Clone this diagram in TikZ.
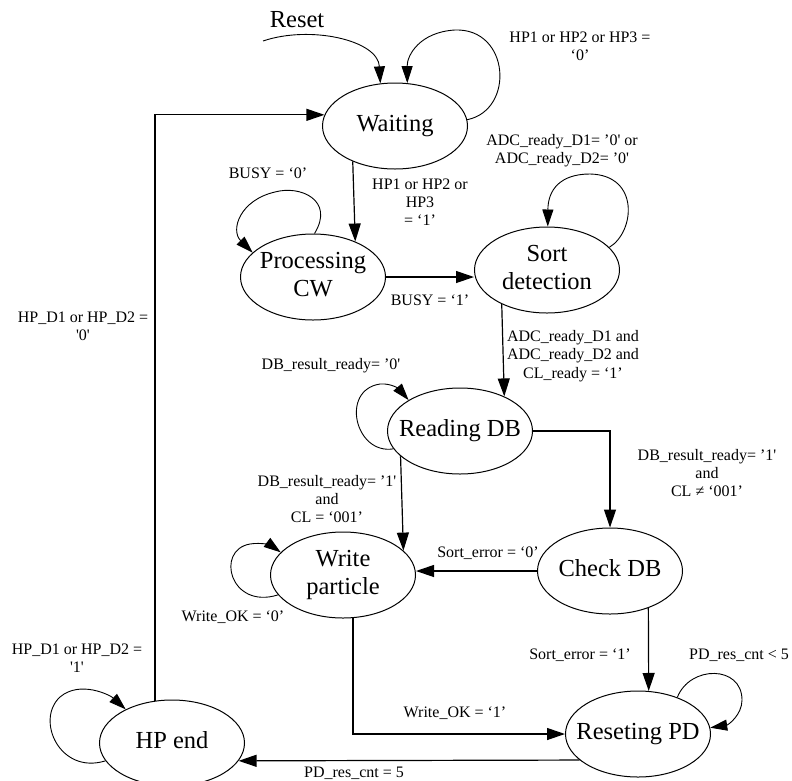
\documentclass[tikz,border=0pt]{standalone}
\usepackage{fontspec}
\setmainfont{Liberation Serif}[Ligatures=TeXOff]
\usetikzlibrary{arrows.meta,shapes.geometric}
\newcommand{\statetext}[1]{\makebox[0pt]{\begin{tabular}{@{}c@{}}#1\end{tabular}}}
\tikzset{
  stnode/.style={ellipse, draw, line width=1pt, minimum width=145pt, minimum height=86pt, inner sep=0pt, font=\fontsize{24.5}{28}\selectfont},
  lbl/.style={align=center, font=\fontsize{16}{18.3}\selectfont, inner sep=0pt},
  arr/.style={line width=1.2pt, -{Triangle[length=18pt,width=12pt]}},
  selfarr/.style={line width=0.9pt, -{Triangle[length=17pt,width=11pt]}},
}
\begin{document}
\begin{tikzpicture}[x=1pt,y=-1pt]
\useasboundingbox (0,0) rectangle (792,780);
% states
\node[stnode] (wait)  at (395,126) {\statetext{Waiting}};
\node[stnode] (proc)  at (313,277) {\statetext{Processing\\CW}};
\node[stnode] (sort)  at (547,270) {\statetext{Sort\\detection}};
\node[stnode] (read)  at (460,431) {\statetext{Reading DB}};
\node[stnode] (write) at (343,575) {\statetext{Write\\particle}};
\node[stnode] (check) at (610,571) {\statetext{Check DB}};
\node[stnode] (reset) at (638,734) {\statetext{Reseting PD}};
\node[stnode] (hpend) at (172,743) {\statetext{HP end}};
% reset entry
\coordinate (rs) at (263,41);
\node[font=\fontsize{24.5}{28}\selectfont, inner sep=0pt] (rslbl) at (297,20) {Reset};
\draw[selfarr] (rs) .. controls (310,25) and (378,40) .. (wait.109.6);
% Waiting self loop
\draw[selfarr] (wait.5) .. controls (515,110) and (510,28) .. (455,30) .. controls (420,32) and (407,55) .. (wait.74.2);
\node[lbl] (l1) at (580,46) {HP1 or HP2 or HP3 =\\‘0’};
% Waiting -> Processing
\draw[arr] (wait.220.9) -- (proc.40.9);
\node[lbl] (l2) at (420,202) {HP1 or HP2 or\\HP3\\= ‘1’};
% Processing self loop
\draw[selfarr] (proc.88) .. controls (335,200) and (300,185) .. (275,192) .. controls (240,200) and (230,230) .. (proc.158.4);
\node[lbl] (l3) at (268,173) {BUSY = ‘0’};
% Processing -> Sort
\draw[arr] (proc.east) -- (proc.east -| sort.west);
\node[lbl] (l4) at (430,300) {BUSY = ‘1’};
% Sort self loop
\draw[selfarr] (sort.20) .. controls (635,232) and (640,175) .. (590,174) .. controls (560,174) and (548,190) .. (sort.89);
\node[lbl] (l5) at (562,151) {ADC\_ready\_D1= ’0' or\\ADC\_ready\_D2= ’0'};
% Sort -> Reading
\draw[arr] (sort.217.85) -- (read.38.8);
\node[lbl] (l6) at (573,356) {ADC\_ready\_D1 and\\ADC\_ready\_D2 and\\CL\_ready = ‘1’};
% Reading self loop
\draw[selfarr] (read.195.8) .. controls (355,455) and (340,390) .. (380,384) .. controls (392,383) and (400,390) .. (read.149.7);
\node[lbl] (l7) at (331,366) {DB\_result\_ready= ’0'};
% Reading -> Write
\draw[arr] (read.203.98) -- (write.22.96);
\node[lbl] (l8) at (327,499) {DB\_result\_ready= ’1'\\and\\CL = ‘001’};
% Reading -> Check
\draw[arr] (read.east) -| (check.north);
\node[lbl] (l9) at (707,473) {DB\_result\_ready= ’1'\\and\\CL ≠ ‘001’};
% Check -> Write
\draw[arr] (check.west) -- (check.west -| write.east);
\node[lbl] (l10) at (488,553) {Sort\_error = ‘0’};
% Write self loop
\draw[selfarr] (write.197.9) .. controls (230,610) and (215,550) .. (250,544) .. controls (262,542) and (272,546) .. (write.160.5);
\node[lbl] (l11) at (233,617) {Write\_OK = ‘0’};
% Check -> Reset
\draw[arr] (check.316.08) -- (reset.76.79);
\node[lbl] (l12) at (580,655) {Sort\_error = ‘1’};
% Write -> Reset
\draw[arr] (write.283.21) |- (reset.west);
\node[lbl] (l13) at (455,713) {Write\_OK = ‘1’};
% Reset self loop
\draw[selfarr] (reset.43.5) .. controls (690,665) and (742,665) .. (742,700) .. controls (742,715) and (728,725) .. (reset.5);
\node[lbl] (l14) at (739,655) {PD\_res\_cnt < 5};
% Reset -> HP end
\draw[arr] (reset.204.26) -- (hpend.345);
\node[lbl] (l15) at (354,773) {PD\_res\_cnt = 5};
% HP end self loop
\draw[selfarr] (hpend.195.5) .. controls (60,775) and (35,720) .. (60,697) .. controls (80,680) and (110,695) .. (hpend.144.7);
\node[lbl] (l16) at (77,658) {HP\_D1 or HP\_D2 =\\'1'};
% HP end -> Waiting
\draw[arr] (hpend.112.1) |- (wait.171.1);
\node[lbl] (l17) at (83,326) {HP\_D1 or HP\_D2 =\\'0'};
\end{tikzpicture}
\end{document}
